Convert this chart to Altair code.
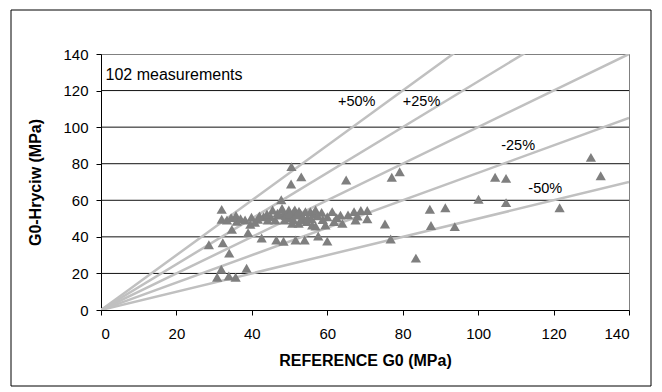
import altair as alt
import pandas as pd

ref_g0 = [28.6, 30.8, 31.9, 32.0, 32.0, 32.3, 33.4, 33.9, 34.0, 34.7, 35.7, 35.8, 36.0, 38.2, 38.6,
          39.0, 39.6, 39.9, 41.6, 42.6, 43.1, 44.2, 45.5, 46.2, 46.5, 47.3, 47.8, 48.4, 48.4, 48.7,
          49.8, 49.8, 50.4, 50.5, 50.7, 51.1, 51.4, 51.6, 52.0, 52.4, 52.9, 53.1, 53.3, 54.0, 54.2,
          54.6, 55.5, 56.0, 56.4, 56.9, 56.9, 57.6, 58.5, 59.5, 60.0, 61.3, 61.8, 63.5, 64.0, 65.0,
          67.1, 67.5, 68.0, 68.9, 70.6, 70.6, 75.3, 76.8, 77.1, 79.2, 83.5, 87.2, 87.5, 91.3, 93.8,
          100.1, 104.5, 107.4, 107.4, 121.6, 129.9, 132.5,
          45.0, 46.8, 48.0, 49.0, 50.0, 51.0, 52.5, 53.5, 54.8, 55.8, 57.5, 58.8, 60.0, 62.5, 44.0,
          42.0, 37.0, 34.5, 40.8, 65.5]
hryciw_g0 = [35.7, 17.9, 22.3, 55.0, 49.6, 36.8, 49.2, 18.6, 31.1, 44.1, 17.9, 51.7, 48.5, 49.2, 22.8,
             42.3, 46.9, 50.7, 49.6, 39.4, 51.0, 49.2, 54.7, 49.2, 38.3, 51.9, 60.3, 37.6, 52.8, 49.2,
             54.7, 50.5, 68.9, 78.4, 47.4, 53.8, 54.7, 38.3, 51.9, 47.4, 52.8, 72.8, 49.2, 38.3, 53.8,
             48.3, 53.8, 46.5, 52.8, 54.7, 45.9, 40.5, 53.4, 46.5, 37.7, 53.8, 48.3, 51.9, 47.4, 71.1,
             53.8, 49.2, 51.4, 54.4, 54.4, 49.9, 47.0, 38.8, 72.6, 75.6, 28.4, 55.1, 46.2, 55.9, 45.6,
             60.6, 72.6, 72.0, 58.7, 55.9, 83.5, 73.4,
             51.0, 53.0, 55.5, 51.5, 52.5, 49.5, 54.0, 51.0, 50.5, 50.0, 51.5, 49.5, 51.0, 50.5, 52.5,
             51.5, 50.0, 50.5, 48.0, 52.0]

ratios = [1.5, 1.25, 1.0, 0.75, 0.5]
x_max = 140
grid_values = [20, 40, 60, 80, 100, 120]
tick_values = [0, 20, 40, 60, 80, 100, 120, 140]

band_labels = ["+50%", "+25%", "-25%", "-50%"]
band_label_x = [67.8, 85.0, 110.6, 117.8]
band_label_y = [113.5, 113.5, 89.7, 66.3]

pts = pd.DataFrame({"ref": ref_g0, "hry": hryciw_g0})
lines = pd.DataFrame(
    [{"k": k, "ref": 0.0, "hry": 0.0} for k in ratios]
    + [{"k": k, "ref": float(x_max), "hry": x_max * k} for k in ratios]
)
grid = pd.DataFrame({"g": grid_values})
labels = pd.DataFrame({"t": band_labels, "ref": band_label_x, "hry": band_label_y})
note = pd.DataFrame({"t": ["102 measurements"], "ref": [1.2], "hry": [128.5]})

font = "Liberation Sans"
xs = alt.Scale(domain=[0, 140], nice=False, zero=True)
ys = alt.Scale(domain=[0, 140], nice=False, zero=True)

xax = alt.Axis(values=tick_values, grid=False, title="REFERENCE G0 (MPa)",
               labelFont=font, labelFontSize=15, labelColor="black", titleFont=font,
               titleFontSize=16, titleFontWeight="bold", titleColor="black", titlePadding=11,
               domainColor="black", tickColor="black", tickSize=5, labelPadding=11)
yax = alt.Axis(values=tick_values, grid=False, title="G0-Hryciw (MPa)",
               labelFont=font, labelFontSize=15, labelColor="black", titleFont=font,
               titleFontSize=16, titleFontWeight="bold", titleColor="black", titlePadding=19,
               domainColor="black", tickColor="black", tickSize=5, labelPadding=8)

frame = alt.Chart(pd.DataFrame({"a": [0]})).mark_rect(
    fill=None, stroke="black", strokeWidth=1, clip=False
).encode(x=alt.value(-90), x2=alt.value(550), y=alt.value(-44), y2=alt.value(332))

gridlines = alt.Chart(grid).mark_rule(color="#111111", strokeWidth=1).encode(
    y=alt.Y("g:Q", scale=ys, axis=yax)
)

ratio_lines = alt.Chart(lines).mark_line(color="#c0c0c0", strokeWidth=2.5, clip=True).encode(
    x=alt.X("ref:Q", scale=xs, axis=xax),
    y=alt.Y("hry:Q", scale=ys, axis=yax),
    detail="k:N",
)

points = alt.Chart(pts).mark_point(shape="triangle-up", filled=True, color="#7f7f7f",
                                   opacity=1, size=105).encode(
    x=alt.X("ref:Q", scale=xs, axis=xax),
    y=alt.Y("hry:Q", scale=ys, axis=yax),
)

band_text = alt.Chart(labels).mark_text(font=font, fontSize=14.5, color="black").encode(
    x=alt.X("ref:Q", scale=xs, axis=xax), y=alt.Y("hry:Q", scale=ys, axis=yax), text="t:N"
)

note_text = alt.Chart(note).mark_text(font=font, fontSize=16, color="black", align="left").encode(
    x=alt.X("ref:Q", scale=xs, axis=xax), y=alt.Y("hry:Q", scale=ys, axis=yax), text="t:N"
)

chart = alt.layer(frame, gridlines, ratio_lines, points, band_text, note_text).properties(
    width=528, height=256,
    autosize=alt.AutoSizeParams(type="none"),
    padding={"left": 101, "top": 54, "right": 33, "bottom": 82},
    background="white",
).configure_view(stroke="#808080", strokeWidth=1)

chart.save("out.html", embed_options={"renderer": "svg", "actions": False})
